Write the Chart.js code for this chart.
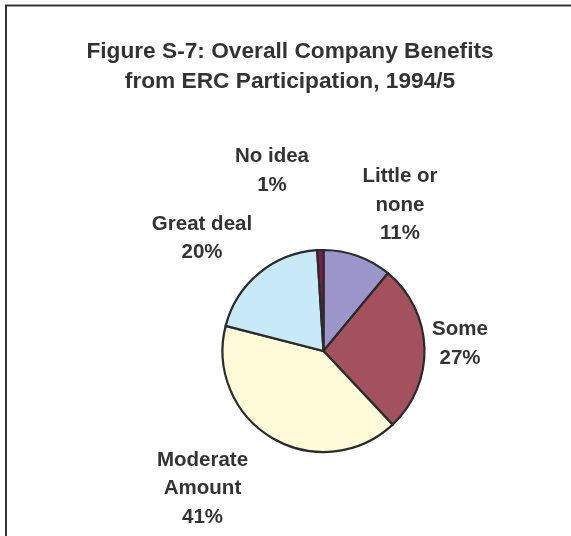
<!DOCTYPE html>
<html>
<head>
<meta charset="utf-8">
<script src="https://cdn.jsdelivr.net/npm/chart.js@4"></script>
<style>
  html, body { margin: 0; padding: 0; background: #ffffff; }
  #wrap { width: 571px; height: 536px; position: relative; }
</style>
</head>
<body>
<div id="wrap"><canvas id="c" width="571" height="536"></canvas></div>
<script>
// Survey answers, clockwise from twelve o'clock
const categories = ['Little or none', 'Some', 'Moderate Amount', 'Great deal', 'No idea'];
const shares = [11, 27, 41, 20, 1];
// Text printed beside each slice (one entry per line)
const sliceLabels = [
  ['Little or', 'none', '11%'],
  ['Some', '27%'],
  ['Moderate', 'Amount', '41%'],
  ['Great deal', '20%'],
  ['No idea', '1%']
];
const titleLines = ['Figure S-7: Overall Company Benefits', 'from ERC Participation, 1994/5'];

const sliceColors = ['#9c95ca', '#a3505f', '#fffad7', '#c8e9f8', '#7a1e4e'];
const ink = '#333333';
const fontFamily = '"Liberation Sans", Arial, Helvetica, sans-serif';

// Where each label block sits, measured from the pie centre in pixels
const labelOffsets = [
  [76.5, -146],
  [136.5, -7],
  [-121, 137.7],
  [-121.5, -112.5],
  [-51.5, -180]
];
const labelLineGap = 28.5;

const framePlugin = {
  id: 'frameAndTitle',
  beforeDraw(chart) {
    const ctx = chart.ctx;
    ctx.save();
    ctx.fillStyle = '#ffffff';
    ctx.fillRect(0, 0, chart.width, chart.height);
    // open frame: top and left rules only
    ctx.strokeStyle = '#333333';
    ctx.lineWidth = 2;
    ctx.beginPath();
    ctx.moveTo(6, chart.height);
    ctx.lineTo(6, 5.5);
    ctx.lineTo(chart.width, 5.5);
    ctx.stroke();
    // heading
    ctx.fillStyle = ink;
    ctx.font = 'bold 22.7px ' + fontFamily;
    ctx.textAlign = 'center';
    ctx.textBaseline = 'alphabetic';
    titleLines.forEach((t, i) => ctx.fillText(t, 290, 57.5 + i * 30));
    ctx.restore();
  },
  afterDatasetsDraw(chart) {
    const ctx = chart.ctx;
    const arcs = chart.getDatasetMeta(0).data;
    ctx.save();
    ctx.fillStyle = ink;
    ctx.font = 'bold 20.5px ' + fontFamily;
    ctx.textAlign = 'center';
    ctx.textBaseline = 'middle';
    arcs.forEach((arc, i) => {
      const lines = sliceLabels[i];
      const cx = arc.x + labelOffsets[i][0];
      const cy = arc.y + labelOffsets[i][1];
      const y0 = cy - (lines.length - 1) * labelLineGap / 2;
      lines.forEach((ln, j) => ctx.fillText(ln, cx, y0 + j * labelLineGap));
    });
    ctx.restore();
  }
};

new Chart(document.getElementById('c'), {
  type: 'pie',
  data: {
    labels: categories,
    datasets: [{
      data: shares,
      backgroundColor: sliceColors,
      borderColor: '#2b2b2b',
      borderWidth: 2.2,
      borderJoinStyle: 'miter'
    }]
  },
  options: {
    responsive: false,
    animation: false,
    radius: 101,
    rotation: 0,
    layout: { padding: { left: 100, right: 24, top: 176, bottom: 10 } },
    plugins: {
      legend: { display: false },
      tooltip: { enabled: false },
      title: { display: false }
    }
  },
  plugins: [framePlugin]
});
</script>
</body>
</html>
